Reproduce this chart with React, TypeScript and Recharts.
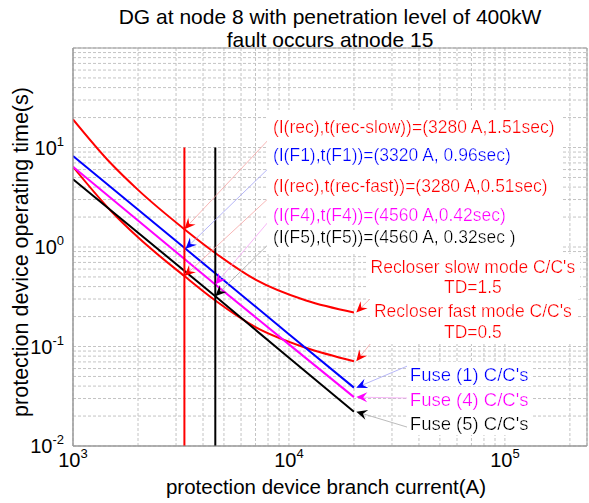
import React from "react";
import {
  LineChart,
  Line,
  XAxis,
  YAxis,
  CartesianGrid,
  ReferenceLine,
  ReferenceDot,
  ReferenceArea,
} from "recharts";

// recloser characteristic (TD=1.5 slow, TD=0.5 fast)
const recloserCurrent = [1000, 1500, 2000, 3280, 4560, 7000, 12000, 20000];
const recloserSlowTime = [19.2, 6.9, 3.75, 1.51, 0.87, 0.47, 0.29, 0.22];
const recloserFastTime = [6.4, 2.3, 1.25, 0.51, 0.29, 0.157, 0.097, 0.071];

// fuse characteristics
const fuse1Current = [1000, 3320, 10000, 20000];
const fuse1Time = [8.2, 0.96, 0.133, 0.0386];
const fuse4Current = [1000, 4560, 10000, 20000];
const fuse4Time = [6.4, 0.42, 0.105, 0.031];
const fuse5Current = [1000, 4560, 10000, 20000];
const fuse5Time = [4.8, 0.32, 0.077, 0.0221];

// fault current markers
const markerTime = [0.01, 10];
const recMarkerCurrent = [3280, 3280];
const fuseMarkerCurrent = [4560, 4560];

const xTicks = [
  1000, 2000, 3000, 4000, 5000, 6000, 7000, 8000, 9000,
  10000, 20000, 30000, 40000, 50000, 60000, 70000, 80000, 90000,
  100000, 200000,
];
const yTicks = [
  0.01, 0.02, 0.03, 0.04, 0.05, 0.06, 0.07, 0.08, 0.09,
  0.1, 0.2, 0.3, 0.4, 0.5, 0.6, 0.7, 0.8, 0.9,
  1, 2, 3, 4, 5, 6, 7, 8, 9,
  10, 20, 30, 40, 50, 60, 70, 80, 90, 100,
];
// decades that get a label
const xLabelled = [3, 4, 5];
const yLabelled = [-2, -1, 0, 1];

const pointLabels = [
  "(I(rec),t(rec-slow))=(3280 A,1.51sec)",
  "(I(F1),t(F1))=(3320 A, 0.96sec)",
  "(I(rec),t(rec-fast))=(3280 A,0.51sec)",
  "(I(F4),t(F4))=(4560 A,0.42sec)",
  "(I(F5),t(F5))=(4560 A, 0.32sec )",
];
const pointLabelColors = ["#f00", "#0000ff", "#f00", "#ff00ff", "#000"];
const pointLabelGaps = [0, 28, 31, 29, 22];

// annotation arrows: tail (near the text) -> tip (on the curve)
const arrowTail = [
  [8160, 12.4], [8160, 6.37], [8160, 3.18], [8160, 1.87], [8160, 1.1],
  [24200, 0.314], [24200, 0.111], [36300, 0.0652], [36300, 0.0303], [36300, 0.0152],
];
const arrowTip = [
  [3280, 1.51], [3320, 0.96], [3280, 0.51], [4560, 0.42], [4560, 0.32],
  [20500, 0.22], [20500, 0.071], [20500, 0.0386], [20500, 0.031], [20500, 0.0221],
];
const arrowLineColor = [
  "#f5a3a3", "#a3a3f5", "#f5a3a3", "#f5a3f5", "#aaaaaa",
  "#f5a3a3", "#f5a3a3", "#a3a3f5", "#f5a3f5", "#aaaaaa",
];
const arrowHeadColor = [
  "#f00", "#0000ff", "#f00", "#ff00ff", "#000",
  "#f00", "#f00", "#0000ff", "#ff00ff", "#000",
];

const font = "'Liberation Sans', Arial, Helvetica, sans-serif";

const rows = (xs: number[], ys: number[]) => xs.map((x, i) => ({ x, t: ys[i] }));

const exponentOf = (v: number) => {
  const e = Math.log10(v);
  return Math.abs(e - Math.round(e)) < 1e-6 ? Math.round(e) : null;
};

const XTick = (props: any) => {
  const { x, y, payload } = props;
  const e = exponentOf(payload.value);
  if (e === null || !xLabelled.includes(e)) return null;
  return (
    <text x={x} y={y + 13} textAnchor="middle" fontFamily={font} fontSize={20} fill="#000">
      <tspan>10</tspan>
      <tspan dy={-9} fontSize={13}>{e}</tspan>
    </text>
  );
};

const YTick = (props: any) => {
  const { x, y, payload } = props;
  const e = exponentOf(payload.value);
  if (e === null || !yLabelled.includes(e)) return null;
  return (
    <text x={x - 1} y={y + 7} textAnchor="end" fontFamily={font} fontSize={20} fill="#000">
      <tspan>10</tspan>
      <tspan dy={-9} fontSize={13}>{e}</tspan>
    </text>
  );
};

const arrowShape = (lineColor: string, headColor: string) => (p: any) => {
  const { x1, y1, x2, y2 } = p;
  const a = Math.atan2(y2 - y1, x2 - x1);
  const c = Math.cos(a);
  const s = Math.sin(a);
  const len = 11;
  const w = 5;
  const notch = 7;
  const bx = x2 - len * c;
  const by = y2 - len * s;
  const nx = x2 - notch * c;
  const ny = y2 - notch * s;
  const pts = [
    [x2, y2],
    [bx - w * s, by + w * c],
    [nx, ny],
    [bx + w * s, by - w * c],
  ]
    .map((q) => q.join(","))
    .join(" ");
  return (
    <g>
      <line x1={x1} y1={y1} x2={nx} y2={ny} stroke={lineColor} strokeWidth={0.8} />
      <polygon points={pts} fill={headColor} />
    </g>
  );
};

const bgFilter = (id: string) => (
  <defs>
    <filter id={id} x="-0.02" y="-0.05" width="1.04" height="1.1">
      <feFlood floodColor="#fff" />
      <feComposite in="SourceGraphic" operator="over" />
    </filter>
  </defs>
);

const PointLabelBlock = (p: any) => (
  <g>
    {bgFilter("bg-left")}
    <text x={p.cx} y={p.cy} fontFamily={font} fontSize={17.5} filter="url(#bg-left)">
      {pointLabels.map((s, i) => (
        <tspan key={s} x={p.cx} dy={pointLabelGaps[i]} fill={pointLabelColors[i]}>
          {s}
        </tspan>
      ))}
    </text>
  </g>
);

const centeredBlock = (id: string, lines: string[], color: string, gap: number) => (p: any) => (
  <g>
    {bgFilter(id)}
    <text x={p.cx} y={p.cy} fontFamily={font} fontSize={17.5} fill={color} textAnchor="middle" filter={`url(#${id})`}>
      {lines.map((s, i) => (
        <tspan key={s} x={p.cx} dy={i === 0 ? 0 : gap}>
          {s}
        </tspan>
      ))}
    </text>
  </g>
);

const leftLabel = (id: string, label: string, color: string) => (p: any) => (
  <g>
    {bgFilter(id)}
    <text x={p.cx} y={p.cy} fontFamily={font} fontSize={18.5} fill={color} filter={`url(#${id})`}>
      {label}
    </text>
  </g>
);

export default function App() {
  return (
    <div style={{ position: "absolute", left: 0, top: 0, background: "#fff" }}>
      <LineChart width={589} height={503} margin={{ top: 48, right: 2, bottom: 0, left: 0 }}>
        <text x={330} y={24} textAnchor="middle" fontFamily={font} fontSize={21} fill="#000">
          DG at node 8 with penetration level of 400kW
        </text>
        <text x={330} y={47} textAnchor="middle" fontFamily={font} fontSize={21} fill="#000">
          fault occurs atnode 15
        </text>
        <text x={326} y={494} textAnchor="middle" fontFamily={font} fontSize={20.5} fill="#000">
          protection device branch current(A)
        </text>
        <text
          x={28}
          y={252}
          transform="rotate(-90 28 252)"
          textAnchor="middle"
          fontFamily={font}
          fontSize={21.5}
          fill="#000"
        >
          protection device operating time(s)
        </text>
        <CartesianGrid stroke="#c4c4c4" strokeDasharray="3 2" />
        <XAxis
          type="number"
          dataKey="x"
          scale="log"
          domain={[1000, 240000]}
          ticks={xTicks}
          interval={0}
          allowDataOverflow
          height={57}
          tickLine={false}
          axisLine={{ stroke: "#999" }}
          tick={<XTick />}
        />
        <YAxis
          type="number"
          scale="log"
          domain={[0.01, 100]}
          ticks={yTicks}
          interval={0}
          allowDataOverflow
          width={73}
          tickLine={false}
          axisLine={{ stroke: "#999" }}
          tick={<YTick />}
        />
        <ReferenceArea x1={1000} x2={240000} y1={0.01} y2={100} fill="none" stroke="#999" />

        <Line data={rows(recloserCurrent, recloserSlowTime)} dataKey="t" stroke="#f00" strokeWidth={2} dot={false} type="monotone" isAnimationActive={false} />
        <Line data={rows(recloserCurrent, recloserFastTime)} dataKey="t" stroke="#f00" strokeWidth={2} dot={false} type="monotone" isAnimationActive={false} />
        <Line data={rows(fuse1Current, fuse1Time)} dataKey="t" stroke="#0000ff" strokeWidth={2} dot={false} type="linear" isAnimationActive={false} />
        <Line data={rows(fuse4Current, fuse4Time)} dataKey="t" stroke="#ff00ff" strokeWidth={2} dot={false} type="linear" isAnimationActive={false} />
        <Line data={rows(fuse5Current, fuse5Time)} dataKey="t" stroke="#000" strokeWidth={2} dot={false} type="linear" isAnimationActive={false} />
        <Line data={rows(recMarkerCurrent, markerTime)} dataKey="t" stroke="#f00" strokeWidth={2} dot={false} type="linear" isAnimationActive={false} />
        <Line data={rows(fuseMarkerCurrent, markerTime)} dataKey="t" stroke="#000" strokeWidth={2} dot={false} type="linear" isAnimationActive={false} />

        {arrowTail.map((tail, i) => (
          <ReferenceLine
            key={i}
            segment={[
              { x: tail[0], y: tail[1] },
              { x: arrowTip[i][0], y: arrowTip[i][1] },
            ]}
            shape={arrowShape(arrowLineColor[i], arrowHeadColor[i])}
          />
        ))}

        <ReferenceDot x={8430} y={14.1} shape={PointLabelBlock} />
        <ReferenceDot x={71100} y={0.552} shape={centeredBlock("bg-slow", ["Recloser slow mode C/C's", "TD=1.5"], "#f00", 20)} />
        <ReferenceDot x={71100} y={0.196} shape={centeredBlock("bg-fast", ["Recloser fast mode C/C's", "TD=0.5"], "#f00", 20.4)} />
        <ReferenceDot x={36300} y={0.0453} shape={leftLabel("bg-f1", "Fuse (1) C/C's", "#0000ff")} />
        <ReferenceDot x={36300} y={0.0254} shape={leftLabel("bg-f4", "Fuse (4) C/C's", "#ff00ff")} />
        <ReferenceDot x={36300} y={0.0145} shape={leftLabel("bg-f5", "Fuse (5) C/C's", "#000")} />
      </LineChart>
    </div>
  );
}
